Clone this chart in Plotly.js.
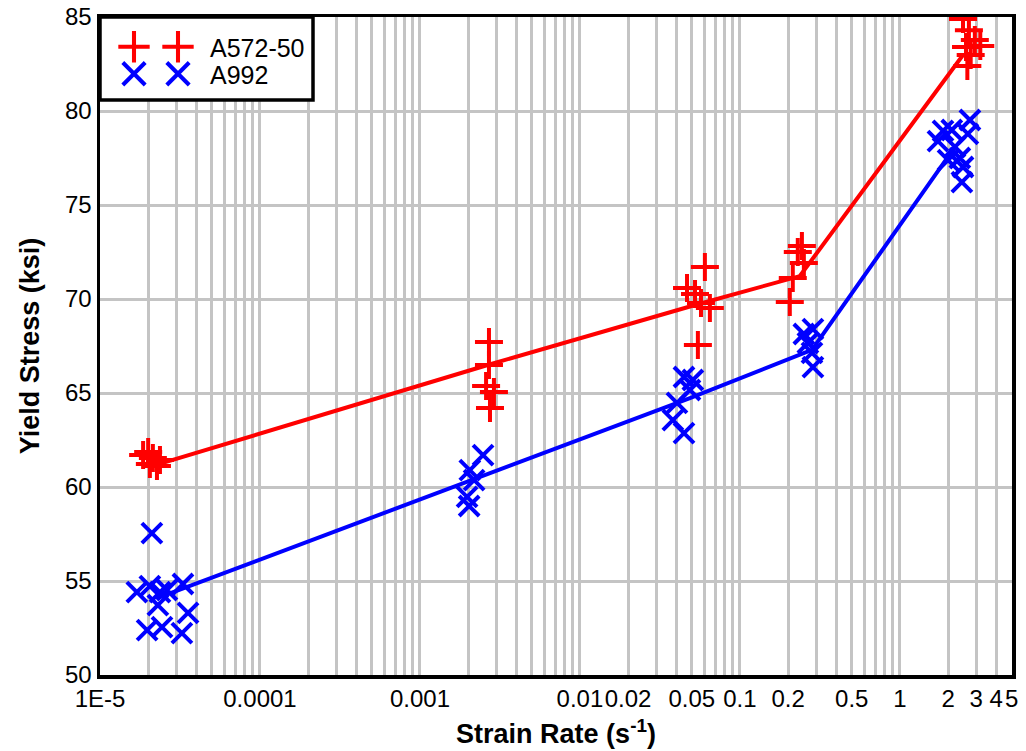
<!DOCTYPE html>
<html>
<head>
<meta charset="utf-8">
<script src="https://cdn.plot.ly/plotly-3.0.1.min.js"></script>
<style>
  html, body { margin: 0; padding: 0; background: #ffffff; }
  #chart { width: 1026px; height: 751px; }
</style>
</head>
<body>
<div id="chart"></div>
<script>
// A572-50 yield stress tests: strain rate (1/s) and yield stress (ksi)
const a572Rate = [1.86e-5, 2.0e-5, 2.14e-5, 2.05e-5, 2.27e-5, 2.37e-5,
                  0.0027, 0.0027, 0.00259, 0.0029, 0.00274,
                  0.0604, 0.0467, 0.0524, 0.0571, 0.0649, 0.0546,
                  0.244, 0.230, 0.251, 0.214, 0.205,
                  2.48, 2.70, 2.94, 3.18, 2.59, 2.77, 2.64];
const a572Stress = [61.70, 61.86, 61.54, 61.22, 61.12, 61.44,
                    67.71, 66.49, 65.37, 65.05, 64.20,
                    71.70, 70.59, 70.27, 69.79, 69.52, 67.55,
                    72.82, 72.50, 71.91, 71.12, 69.84,
                    84.89, 84.30, 83.78, 83.46, 83.40, 82.98, 82.39];

// A992 yield stress tests
const a992Rate = [2.11e-5, 1.70e-5, 2.05e-5, 2.37e-5, 2.62e-5, 3.30e-5, 2.30e-5, 3.55e-5, 1.97e-5, 2.44e-5, 3.25e-5,
                  0.00248, 0.00205, 0.00218, 0.00197, 0.00203,
                  0.0447, 0.0508, 0.0487, 0.0404, 0.0381, 0.0447,
                  0.251, 0.286, 0.266, 0.282, 0.286,
                  1.86, 1.73, 2.11, 2.74, 2.66, 2.21, 2.37, 2.00, 2.48, 2.44];
const a992Stress = [57.55, 54.41, 54.73, 54.41, 54.52, 54.84, 53.72, 53.30, 52.39, 52.55, 52.23,
                    61.70, 60.90, 60.37, 59.47, 58.99,
                    65.85, 65.69, 65.16, 64.47, 63.56, 62.87,
                    68.14, 68.40, 67.66, 67.13, 66.38,
                    78.94, 78.40, 78.99, 79.52, 78.78, 78.09, 77.50, 77.39, 77.02, 76.22];

// Piecewise trend lines joining the rate groups
const a572TrendRate = [2.3e-5, 0.00265, 0.0525, 0.237, 2.48];
const a572TrendStress = [61.2, 66.49, 69.68, 71.22, 82.98];
const a992TrendRate = [2.3e-5, 0.00205, 0.0487, 0.282, 2.21];
const a992TrendStress = [54.1, 60.32, 64.73, 67.29, 78.09];

// Labelled strain-rate ticks
const xLabelVals = [1e-5, 1e-4, 1e-3, 0.01, 0.02, 0.05, 0.1, 0.2, 0.5, 1, 2, 3, 4, 5];
const xLabelText = ['1E-5', '0.0001', '0.001', '0.01', '0.02', '0.05', '0.1', '0.2', '0.5', '1', '2', '3', '4', '5'];
const yTickVals = [50, 55, 60, 65, 70, 75, 80, 85];

// Every 1..9 x 10^n position gets a grid line; only some carry a label
const gridVals = [];
const gridText = [];
for (let p = -5; p <= 0; p++) {
  for (let k = 1; k <= 9; k++) {
    const v = parseFloat((k * Math.pow(10, p)).toPrecision(6));
    if (v > 5.0001) break;
    gridVals.push(v);
    const idx = xLabelVals.findIndex(function (t) { return Math.abs(t - v) / t < 1e-6; });
    gridText.push(idx >= 0 ? xLabelText[idx] : '');
  }
}

const RED = '#ff0000';
const BLUE = '#0000ff';
const FONT = 'Liberation Sans, Arial, Helvetica, sans-serif';

const plusMarker = { symbol: 'cross-thin', size: 20, color: RED, line: { color: RED, width: 4 } };
const xMarker = { symbol: 'x-thin', size: 20, color: BLUE, line: { color: BLUE, width: 4 } };

const traces = [
  { x: a572TrendRate, y: a572TrendStress, mode: 'lines', line: { color: RED, width: 4 },
    showlegend: false, hoverinfo: 'skip' },
  { x: a992TrendRate, y: a992TrendStress, mode: 'lines', line: { color: BLUE, width: 4 },
    showlegend: false, hoverinfo: 'skip' },
  { x: a572Rate, y: a572Stress, mode: 'markers', name: 'A572-50', marker: plusMarker, legend: 'legend' },
  { x: a992Rate, y: a992Stress, mode: 'markers', name: 'A992', marker: xMarker, legend: 'legend2' }
];

const PW = 912, PH = 658;  // plot area size in px
function keyRow(yPx) {
  return {
    yanchor: 'middle', xanchor: 'left',
    x: 46 / PW, y: 1 - yPx / PH,
    bgcolor: 'rgba(0,0,0,0)', borderwidth: 0,
    font: { family: FONT, size: 25, color: '#000' },
    itemwidth: 54
  };
}

const layout = {
  width: 1026, height: 751,
  margin: { l: 100, r: 14, t: 17, b: 76 },
  paper_bgcolor: '#ffffff', plot_bgcolor: '#ffffff',
  font: { family: FONT, size: 24, color: '#000' },
  showlegend: true,
  legend: keyRow(30),
  legend2: keyRow(57),
  xaxis: {
    type: 'log', range: [-5, Math.log10(5.02)],
    tickmode: 'array', tickvals: gridVals, ticktext: gridText, tickangle: 0,
    ticks: '', showgrid: true, gridcolor: '#c4c4c4', gridwidth: 3,
    showline: true, mirror: true, linecolor: '#000', linewidth: 3.5,
    zeroline: false,
    tickfont: { family: FONT, size: 24, color: '#000' },
    title: { text: '<b>Strain Rate (s<sup>-1</sup>)</b>', font: { family: FONT, size: 27, color: '#000' }, standoff: 14 }
  },
  yaxis: {
    range: [50, 85], tickmode: 'array', tickvals: yTickVals,
    ticks: '', showgrid: true, gridcolor: '#c4c4c4', gridwidth: 3,
    showline: true, mirror: true, linecolor: '#000', linewidth: 3.5,
    zeroline: false,
    tickfont: { family: FONT, size: 24, color: '#000' },
    title: { text: '<b>Yield Stress (ksi)</b>', font: { family: FONT, size: 27, color: '#000' }, standoff: 18 }
  },
  shapes: [{
    type: 'rect', xref: 'paper', yref: 'paper', layer: 'above',
    x0: 0, x1: 213 / PW, y0: 1 - 83 / PH, y1: 1,
    line: { color: '#000', width: 3.5 }, fillcolor: '#ffffff'
  }]
};

Plotly.newPlot('chart', traces, layout, { displayModeBar: false, staticPlot: true }).then(function (gd) {
  // key symbols: draw them at full size and repeat each one to its left
  gd.querySelectorAll('.infolayer [class^="legend"] [clip-path]').forEach(function (el) {
    el.removeAttribute('clip-path');
  });
  gd.querySelectorAll('.legendpoints').forEach(function (grp) {
    grp.querySelectorAll('path.scatterpts').forEach(function (p) {
      p.setAttribute('transform', (p.getAttribute('transform') || '') + ' scale(1.4)');
      p.style.strokeWidth = '2.9px';
    });
    const twin = grp.cloneNode(true);
    twin.setAttribute('transform', 'translate(-44,0)');
    grp.parentNode.insertBefore(twin, grp);
  });
});
</script>
</body>
</html>
